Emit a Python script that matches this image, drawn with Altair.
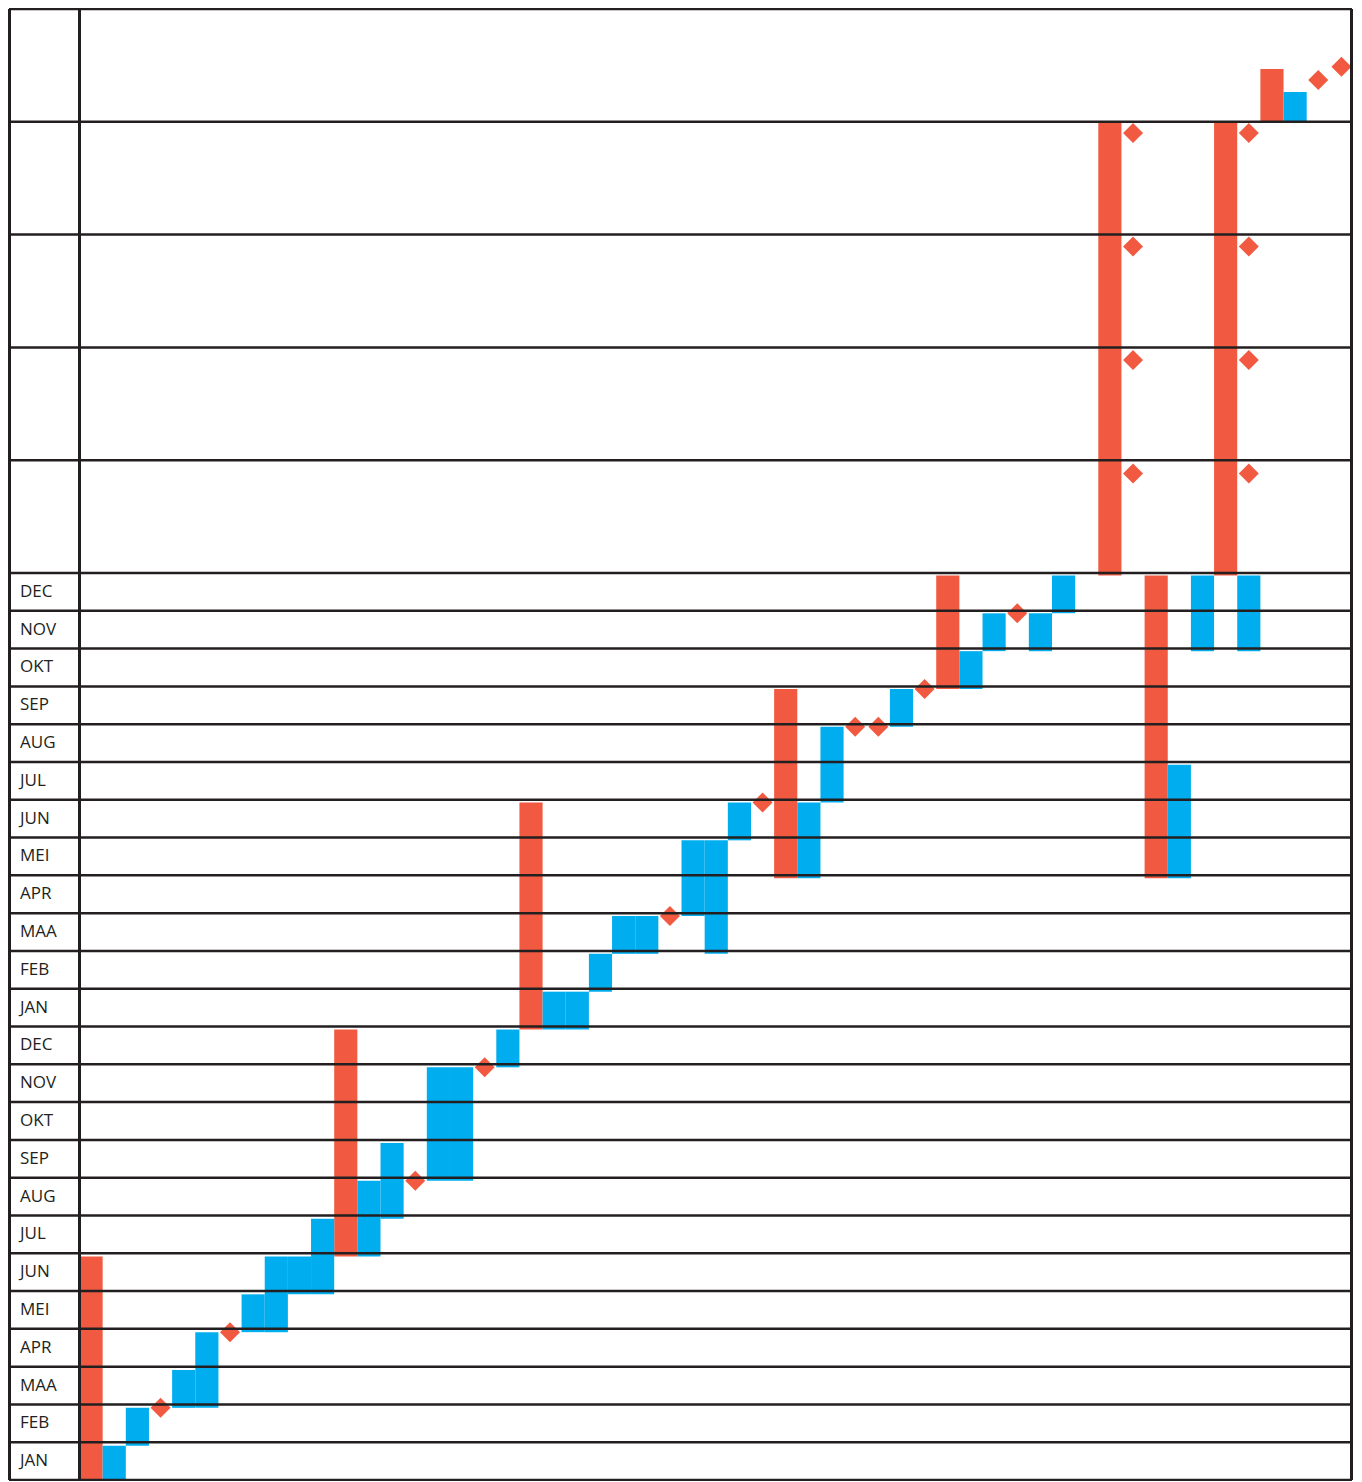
import altair as alt
import pandas as pd

# ---- data ----
months = ["JAN", "FEB", "MAA", "APR", "MEI", "JUN", "JUL", "AUG", "SEP", "OKT", "NOV", "DEC"]
row_labels = months * 2
grid_y = list(range(0, 25)) + [27, 30, 33, 36, 39]

red_slots = [0, 11, 19, 30, 37, 44, 46, 49, 51]
red_from = [0, 6, 12, 16, 21, 24, 16, 24, 36]
red_to = [6, 12, 18, 21, 24, 36, 24, 36, 37.4]

blue_slots = [1, 2, 4, 5, 7, 8, 9, 10, 12, 13, 15, 16, 18, 20, 21, 22, 23, 24,
              26, 27, 28, 31, 32, 35, 38, 39, 41, 42, 47, 48, 50, 52]
blue_from = [0, 1, 2, 2, 4, 4, 5, 5, 6, 7, 8, 8, 11, 12, 12, 13, 14, 14,
             15, 14, 17, 16, 18, 20, 21, 22, 22, 23, 16, 22, 22, 36]
blue_to = [1, 2, 3, 4, 5, 6, 6, 7, 8, 9, 11, 11, 12, 13, 13, 14, 15, 15,
           17, 17, 18, 18, 20, 21, 22, 23, 23, 24, 19, 24, 24, 36.79]

diamond_slots = [3, 6, 14, 17, 25, 29, 33, 34, 36, 40,
                 45, 45, 45, 45, 50, 50, 50, 50, 53, 54]
diamond_vals = [2, 4, 8, 11, 15, 18, 20, 20, 21, 23,
                26.7, 29.7, 32.7, 35.7, 26.7, 29.7, 32.7, 35.7, 37.11, 37.46]

RED = "#F15A40"
BLUE = "#00AEEF"
LINE = "#231f20"

# ---- tables ----
bars = pd.DataFrame({
    "slot": red_slots + blue_slots,
    "start": red_from + blue_from,
    "end": red_to + blue_to,
    "kind": ["red"] * len(red_slots) + ["blue"] * len(blue_slots),
})
diamonds = pd.DataFrame({"slot": diamond_slots, "val": diamond_vals})
grid = pd.DataFrame({"y": grid_y})
labels = pd.DataFrame({"label": row_labels, "pos": [i + 0.5 for i in range(len(row_labels))]})

W, H = 1343, 1471
xscale = alt.Scale(domain=[0, 55], range=[70.5, 1344], nice=False, zero=False)
mark_y = alt.Scale(domain=[0, 24, 36, 39], range=[1474.5, 566.5, 112.7, 0], nice=False, zero=False)
grid_ys = alt.Scale(domain=[0, 24, 39], range=[H, 564, 0], nice=False, zero=False)

bar_layer = alt.Chart(bars).mark_bar(strokeWidth=0).transform_calculate(
    slot_end="datum.slot + 1"
).encode(
    x=alt.X("slot:Q", scale=xscale, axis=None),
    x2="slot_end:Q",
    y=alt.Y("start:Q", scale=mark_y, axis=None),
    y2="end:Q",
    color=alt.Color("kind:N", scale=alt.Scale(domain=["red", "blue"], range=[RED, BLUE]), legend=None),
)

diamond_layer = alt.Chart(diamonds).mark_point(
    shape="diamond", filled=True, size=400, opacity=1, color=RED
).transform_calculate(
    mid="datum.slot + 0.5"
).encode(
    x=alt.X("mid:Q", scale=xscale, axis=None),
    y=alt.Y("val:Q", scale=mark_y, axis=None),
)

marks = alt.layer(bar_layer, diamond_layer)

hlines = alt.Chart(grid).mark_rule(color=LINE, strokeWidth=2.5).encode(
    y=alt.Y("y:Q", scale=grid_ys, axis=None)
)
divider = alt.Chart(grid).mark_rule(color=LINE, strokeWidth=2.5).encode(
    x=alt.datum(0, scale=xscale)
)
left_edge = alt.Chart(grid).mark_rule(color=LINE, strokeWidth=2.5).encode(x=alt.value(0))
right_edge = alt.Chart(grid).mark_rule(color=LINE, strokeWidth=2.5).encode(x=alt.value(W))

text_layer = alt.Chart(labels).mark_text(
    align="left", baseline="middle", font="Open Sans", fontSize=17, color=LINE
).encode(
    x=alt.value(11),
    y=alt.Y("pos:Q", scale=grid_ys, axis=None),
    text="label:N",
)

frame = alt.layer(hlines, divider, left_edge, right_edge, text_layer)

chart = alt.layer(marks, frame).resolve_scale(y="independent").properties(
    width=W, height=H, padding=1,
    autosize=alt.AutoSizeParams(type="none"),
).configure_view(stroke=None)

chart.save("out.html", embed_options={"renderer": "svg", "actions": False})
